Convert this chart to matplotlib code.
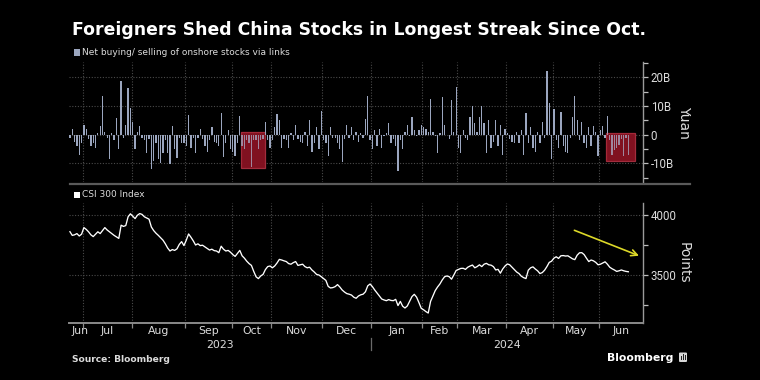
import numpy as np
import matplotlib
matplotlib.use("Agg")
import matplotlib.pyplot as plt
from matplotlib.patches import Rectangle, FancyBboxPatch
from matplotlib.lines import Line2D

# ---------------- data ----------------
month_labels = ["Jun", "Jul", "Aug", "Sep", "Oct", "Nov", "Dec",
                "Jan", "Feb", "Mar", "Apr", "May", "Jun"]
month_days = [6, 21, 23, 20, 17, 22, 21, 22, 15, 21, 20, 20, 13]   # trading days shown per month
year_labels = ["2023", "2024"]

# Net northbound buying/selling, billion yuan (one value per trading day)
net_flow_bn = [
    -1, 2, -2.5, -4, -7, -3, 3.5, 2, -1.5, -4, -3, -4.5, 0.5, 3, 13.5, 1, -1, -8.5, 0.5, -2,
    5.8, -5, 18.8, -1, 3.5, 16.3, 9.2, 4.5, -5, 1, 3, -1, -2, -6.5, -1.5, -12, -9.2, -3, -8.5, -10,
    -6.5, -2, -6.5, -10.3, 3, -5, -8, -1, -3, -3, -4, 6.9, -4.5, -1, -6.5, -1, 2, -1.5, -4, -6,
    -2, 2.5, -2.5, -3, -4, 7.4, -7.7, -3, 1.5, -5, -6, -7.5, -3, 6.5, -4, -5, -2, -3, -11.4, -2,
    -2, -5, -2, -1.5, 4.5, -2, -4.5, -2, 2.5, 7.2, 5, -4.5, -1.5, -2, -4.5, 0.5, -2, 3.5, -1.5, -2.5,
    -3, 1, -4, 5, -6, -3, 2.5, -5, 8.3, -2, -3, -7.5, 2.5, -1, -1, -3, -5, -9.5, -1.5, 3.5,
    -1, 2.5, -2, 1, -2.5, 0.5, -1, 5.5, 13.5, -2, -5, 1.5, -4, 2, -4.5, -0.5, 0.5, 4, -3, -1.5,
    -4, -12.7, -2, -5, 1, 3.5, -0.5, 6, 1.5, -0.5, 1.5, 3.5, 2.5, 2, 1, 12.5, 1, -0.5, -6.5, 0.5,
    13, 3.5, 0, -1.5, 12, 1, 16.5, -4.5, -6.5, 1.5, -1, -2, 6, 10, 4, 1, 6, 10, 4, -6.5,
    5, -4.5, -2.5, 5, -4, 3.5, -7, 2, 0.5, -1.5, -2.5, -3, 1, -3, 1.5, -7, 7.5, -3, 2.5, -4.5,
    -6, 1, -3, 4.5, -1, 22.2, 10.9, -8.5, 9, -2, -4.5, 8, -4, -6, -6.5, -1, 6, 13.5, 5, -2,
    4.5, -3, -4.5, 2.5, -4, 3, 1, -7.5, 1.5, 3, -1, 6.5, -2, -7, -5.5, -4.5, -3.5, -1.5, -7.5, -1,
    -7,
]

# CSI 300 Index level (one value per trading day)
csi300 = [
    3861, 3830, 3835, 3845, 3825, 3840, 3895, 3880, 3860, 3835, 3820, 3840, 3860, 3845, 3870, 3895,
    3875, 3860, 3845, 3830, 3818, 3805, 3915, 3905, 3912, 3985, 4010, 3990, 3970, 3998, 4012, 4005,
    3985, 3975, 3965, 3900, 3870, 3848, 3830, 3810, 3790, 3760, 3725, 3700, 3712, 3705, 3718, 3755,
    3778, 3745, 3790, 3842, 3815, 3785, 3750, 3760, 3745, 3748, 3735, 3722, 3708, 3715, 3703, 3700,
    3686, 3740, 3715, 3700, 3705, 3690, 3670, 3655, 3680, 3705, 3660, 3640, 3615, 3595, 3580, 3530,
    3485, 3470, 3492, 3505, 3545, 3570, 3575, 3560, 3575, 3600, 3630, 3625, 3618, 3612, 3595, 3590,
    3603, 3612, 3580, 3585, 3590, 3570, 3560, 3565, 3542, 3525, 3505, 3500, 3486, 3470, 3455, 3405,
    3392, 3395, 3403, 3420, 3400, 3375, 3358, 3345, 3340, 3333, 3315, 3306, 3325, 3335, 3340, 3360,
    3410, 3425, 3403, 3375, 3350, 3325, 3300, 3292, 3286, 3295, 3288, 3286, 3297, 3245, 3280, 3240,
    3225, 3242, 3280, 3320, 3339, 3315, 3270, 3222, 3210, 3195, 3183, 3280, 3325, 3370, 3400, 3425,
    3458, 3485, 3492, 3486, 3465, 3500, 3538, 3547, 3555, 3556, 3547, 3565, 3575, 3583, 3560, 3570,
    3585, 3570, 3590, 3597, 3585, 3582, 3570, 3542, 3547, 3515, 3550, 3575, 3592, 3585, 3565, 3545,
    3525, 3512, 3490, 3478, 3470, 3540, 3560, 3568, 3550, 3535, 3512, 3520, 3540, 3570, 3605, 3615,
    3640, 3652, 3638, 3660, 3662, 3658, 3660, 3648, 3635, 3628, 3665, 3685, 3686, 3670, 3640, 3612,
    3625, 3618, 3605, 3585, 3590, 3600, 3610, 3590, 3565, 3552, 3542, 3530, 3535, 3542, 3535, 3530,
    3527,
]

# highlighted selling streaks (day index ranges) and their box depth (billion yuan)
streak_boxes = [(73.5, 83.8, 1.0, -11.5), (230.4, 242.9, 0.7, -9.1)]

# ---------------- style ----------------
W, H = 760, 380
BG = "black"
GRID = "#4a4a4a"
TXT = "#dcdcdc"
BAR = "#9ba6bf"
FONT = "DejaVu Sans"
TICKFONT = "Roboto"

fig = plt.figure(figsize=(W / 100, H / 100), dpi=100, facecolor=BG)


def fx(px):
    return px / W


def fy(py):
    return 1 - py / H


L, R = 69, 643
ax1 = fig.add_axes([fx(L), fy(182), (R - L) / W, 120 / H])
ax2 = fig.add_axes([fx(L), fy(323), (R - L) / W, 120 / H])

n = len(net_flow_bn)
x = np.arange(n)
bounds = np.cumsum(month_days)[:-1] - 0.5
xlim = (-0.4, 246.3)

for ax in (ax1, ax2):
    ax.set_facecolor(BG)
    ax.set_xlim(*xlim)
    for s in ("top", "left"):
        ax.spines[s].set_visible(False)
    ax.spines["right"].set_color("#9a9a9a")
    ax.spines["right"].set_linewidth(1.0)
    ax.yaxis.tick_right()
    ax.tick_params(axis="y", which="both", colors="#bdbdbd", labelcolor=TXT, labelsize=8.3,
                   length=3.5, width=0.9, pad=2)
    for b in bounds:
        ax.axvline(b, color=GRID, lw=0.8, ls=(0, (1, 1.5)), zorder=0)

# ---- top panel: bars ----
ax1.bar(x, net_flow_bn, width=0.55, color=BAR, lw=0, zorder=2)
ax1.set_ylim(-16.5, 25.3)
ax1.set_yticks([-10, 0, 10, 20])
ax1.set_yticklabels(["-10B", "0", "10B", "20B"], family=TICKFONT)
ax1.set_yticks([-15, -5, 5, 15, 25], minor=True)
for v in (-10, 0, 10, 20):
    ax1.axhline(v, color=GRID, lw=0.8, ls=(0, (1, 1.5)), zorder=0)
ax1.spines["bottom"].set_visible(False)
ax1.set_xticks([])

for x0, x1, y0, y1 in streak_boxes:
    ax1.add_patch(Rectangle((x0, y1), x1 - x0, y0 - y1, facecolor="#7a1020", alpha=0.95,
                            edgecolor="#a83040", lw=0.9, zorder=1.5))
    ax1.add_patch(Rectangle((x0, y1), x1 - x0, y0 - y1, facecolor="#b01a2a", alpha=0.22,
                            edgecolor="none", zorder=2.5))

# ---- bottom panel: line ----
ax2.plot(x, csi300, color="white", lw=0.95, zorder=3)
ax2.set_ylim(3100, 4100)
ax2.set_yticks([3500, 4000])
ax2.set_yticklabels(["3500", "4000"], family=TICKFONT)
ax2.set_yticks([3250, 3750], minor=True)
for v in (3500, 4000):
    ax2.axhline(v, color=GRID, lw=0.8, ls=(0, (1, 1.5)), zorder=0)
ax2.spines["bottom"].set_color("#8a8a8a")
ax2.spines["bottom"].set_linewidth(1.4)
ax2.set_xticks(bounds)
ax2.set_xticklabels([])
ax2.tick_params(axis="x", colors="#8a8a8a", length=3.5, width=0.9)

# axis titles on the right
fig.text(fx(684), fy(122), "Yuan", rotation=270, color=TXT, fontsize=10, family=FONT,
         ha="center", va="center")
fig.text(fx(684), fy(263), "Points", rotation=270, color=TXT, fontsize=10, family=FONT,
         ha="center", va="center")

# month labels
edges = np.concatenate([[xlim[0]], bounds, [xlim[1]]])
centers = (edges[:-1] + edges[1:]) / 2
tr = ax2.get_xaxis_transform()
for i, (c, lab) in enumerate(zip(centers, month_labels)):
    if i == 0:
        ax2.text(xlim[0] + 1.2, -0.067, lab, transform=tr, ha="left", va="center",
                 color=TXT, fontsize=7.8, family=FONT)
    else:
        ax2.text(c, -0.067, lab, transform=tr, ha="center", va="center",
                 color=TXT, fontsize=7.8, family=FONT)
jan = bounds[6]
ax2.text((xlim[0] + jan) / 2, -0.183, year_labels[0], transform=tr, ha="center", va="center",
         color=TXT, fontsize=7.8, family=FONT)
ax2.text((jan + xlim[1]) / 2, -0.183, year_labels[1], transform=tr, ha="center", va="center",
         color=TXT, fontsize=7.8, family=FONT)
ax2.add_line(Line2D([jan, jan], [-0.125, -0.225], transform=tr, color="#6a6a6a", lw=0.9,
                    clip_on=False))

# arrow
ax2.annotate("", xy=(245.7, 3652), xytext=(215.7, 3881),
             arrowprops=dict(arrowstyle="->", color="#dcd828", lw=1.2, mutation_scale=11),
             annotation_clip=False, zorder=5)

# separator between panels
fig.add_artist(Line2D([fx(70), fx(690)], [fy(183.5), fy(183.5)], color="#5a5a5a", lw=1.6))

# legends
fig.add_artist(Rectangle((fx(74), fy(55.5)), 6 / W, 6 / H, facecolor=BAR, edgecolor="none"))
fig.text(fx(82.5), fy(52.5), "Net buying/ selling of onshore stocks via links", color=TXT,
         fontsize=6.5, family=FONT, ha="left", va="center")
fig.add_artist(Rectangle((fx(74), fy(197.5)), 6 / W, 6 / H, facecolor="white", edgecolor="none"))
fig.text(fx(82.5), fy(194.5), "CSI 300 Index", color=TXT, fontsize=6.5, family=FONT,
         ha="left", va="center")

# title
title = fig.text(fx(72), fy(35), "Foreigners Shed China Stocks in Longest Streak Since Oct.",
                 color="white", fontsize=14, fontweight="bold", family=FONT,
                 ha="left", va="baseline")
fig.canvas.draw()
w = title.get_window_extent().width
title.set_fontsize(14 * 573 / w)

# footer
fig.text(fx(72), fy(361.5), "Source: Bloomberg", color=TXT, fontsize=6.6, fontweight="bold",
         family=FONT, ha="left", va="baseline")
fig.text(fx(673.5), fy(361), "Bloomberg", color="white", fontsize=7.8, fontweight="bold",
         family=FONT, ha="right", va="baseline")
fig.add_artist(FancyBboxPatch((fx(679), fy(362)), 8 / W, 9.5 / H,
                              boxstyle="round,pad=0,rounding_size=0.002",
                              facecolor="#d8d8d8", edgecolor="none"))
for bx, bh in ((680.8, 3.5), (682.8, 6.0), (684.8, 4.5)):
    fig.add_artist(Rectangle((fx(bx), fy(359.5)), 1.2 / W, bh / H, facecolor="#202020",
                             edgecolor="none"))

fig.savefig("out.png", dpi=100, facecolor=BG)
